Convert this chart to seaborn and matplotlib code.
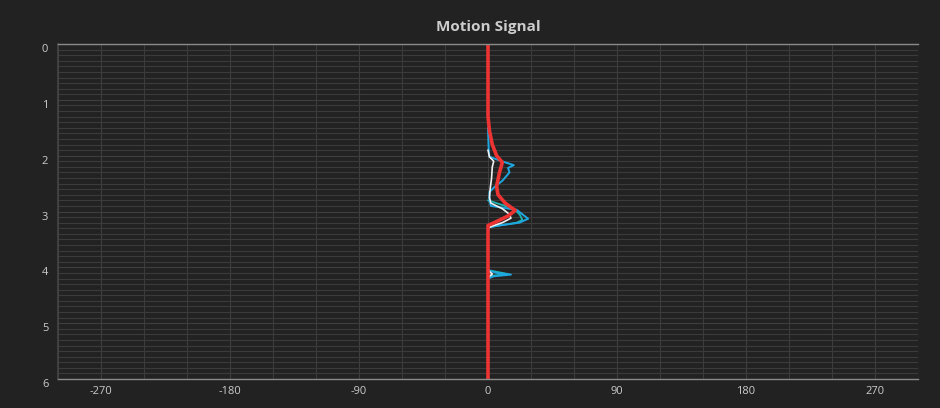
import matplotlib
matplotlib.use("Agg")
import matplotlib.pyplot as plt
import seaborn as sns
import numpy as np

# depth (y) vs. signal (x) for each trace
red_depth = [0, 1.30, 1.55, 1.80, 2.00, 2.12, 2.30, 2.55, 2.70, 2.85, 2.98, 3.08, 3.18, 3.25, 6]
red_value = [0, 0, 1, 3, 6, 10, 8, 6, 7, 12, 19, 14, 6, 0, 0]

blue_depth = [1.50, 1.90, 2.02, 2.12, 2.17, 2.22, 2.30, 2.45, 2.55, 2.65, 2.80, 2.90, 2.97, 3.05, 3.13, 3.20, 3.25, 3.28, 3.35,
              4.05, 4.10, 4.13, 4.16, 4.20]
blue_value = [0, 0.5, 1, 12, 18, 14, 15, 10, 5, 1, 1, 2, 20, 24, 28, 22, 8, 1, 0,
              0, 6, 16, 4, 0]

teal_depth = [2.80, 2.95, 3.05, 3.15, 3.20, 3.25, 3.28, 4.05, 4.12, 4.15, 4.20]
teal_value = [0, 18, 22, 24, 20, 8, 0, 0, 14, 3, 0]

white_depth = [1.90, 2.02, 2.10, 2.20, 2.40, 2.60, 2.75, 2.85, 2.95, 3.05, 3.12, 3.20, 3.26, 3.30, 4.05, 4.12, 4.18]
white_value = [0, 1, 4, 3, 2.5, 1.5, 1, 2, 10, 15, 16, 10, 3, 0, 0, 3, 0]

x_ticks = [-270, -180, -90, 0, 90, 180, 270]
y_ticks = [0, 1, 2, 3, 4, 5, 6]

bg = "#222222"
sns.set_theme(style="dark")
plt.rcParams['font.family'] = ['Open Sans', 'DejaVu Sans']
plt.rcParams['axes.unicode_minus'] = False

fig = plt.figure(figsize=(9.4, 4.08), dpi=100, facecolor=bg)
ax = fig.add_axes([58 / 940, 1 - 379 / 408, 860 / 940, 335 / 408])
ax.set_facecolor(bg)

traces = [
    (teal_value, teal_depth, "#1fb5b0", 1.3),
    (blue_value, blue_depth, "#1ea7e1", 1.4),
    (white_value, white_depth, "#f0f0f0", 1.2),
    (red_value, red_depth, "#ee3333", 2.6),
]
for xs, ys, col, lw in traces:
    sns.lineplot(x=xs, y=ys, sort=False, estimator=None, color=col, linewidth=lw, ax=ax)

ax.set_xlim(-300, 300)
ax.set_ylim(6, 0)

# grid
ax.set_xticks(np.arange(-300, 301, 30), minor=True)
ax.set_yticks(np.arange(0, 6.01, 0.1), minor=True)
ax.grid(which="minor", color="#3b3b3b", linewidth=0.8)
ax.grid(which="major", color="#3e3e3e", linewidth=0.8)
ax.set_axisbelow(True)

ax.set_xticks(x_ticks)
ax.set_yticks(y_ticks)
ax.tick_params(which="both", length=0, colors="#cccccc", labelsize=8)
ax.tick_params(axis="x", pad=5)
ax.tick_params(axis="y", pad=7)
for lbl in ax.get_yticklabels():
    lbl.set_va("top")

for side in ["top", "bottom"]:
    ax.spines[side].set_color("#8a8a8a")
    ax.spines[side].set_linewidth(1)
ax.spines["left"].set_color("#444444")
ax.spines["right"].set_visible(False)

ax.set_xlabel("")
ax.set_ylabel("")
ax.set_title("Motion Signal", color="#cccccc", fontsize=11, fontweight="bold", pad=9)

fig.savefig("out.png", dpi=100, facecolor=bg)
